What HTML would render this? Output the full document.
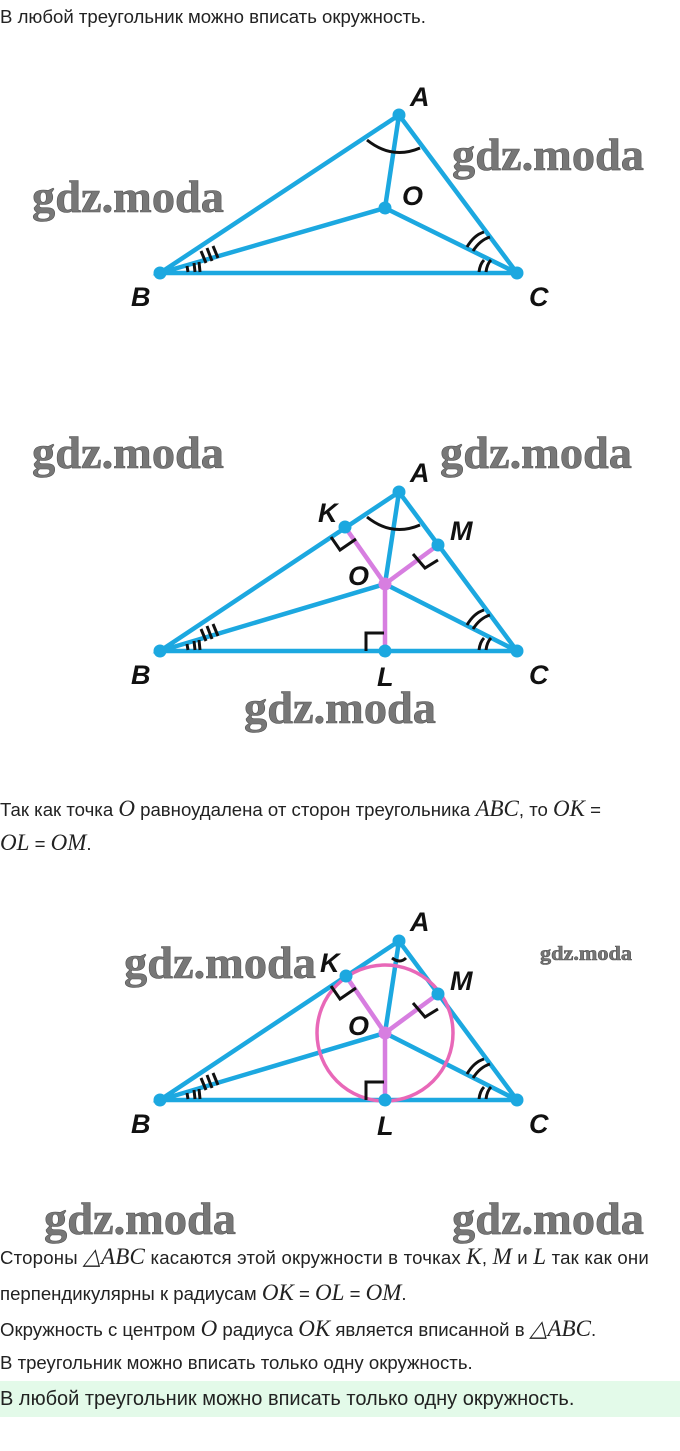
<!DOCTYPE html>
<html><head><meta charset="utf-8"><style>
body{margin:0;width:680px;height:1451px;position:relative;background:#fff;font-family:"Liberation Sans",sans-serif;color:#222;overflow:hidden}
.t{position:absolute;left:0;font-size:18.6px;white-space:nowrap}
.m{font-family:"Liberation Serif",serif;font-style:italic;font-size:23px}
.wm{font-family:"Liberation Serif",serif;font-weight:bold;fill:#777;stroke:#555;stroke-width:.6}
.lb{font-family:"Liberation Sans",sans-serif;font-weight:bold;font-style:italic;font-size:27px;fill:#111}
</style></head><body>
<div class="t" style="top:6px">В любой треугольник можно вписать окружность.</div>
<div class="t" style="top:796px">Так как точка <span class="m">O</span> равноудалена от сторон треугольника <span class="m">ABC</span>, то <span class="m">OK</span> =</div>
<div class="t" style="top:830px"><span class="m">OL</span> = <span class="m">OM</span>.</div>
<div class="t" style="top:1244px;letter-spacing:0.2px">Стороны <span class="m">△ABC</span> касаются этой окружности в точках <span class="m">K</span>, <span class="m">M</span> и <span class="m">L</span> так как они</div>
<div class="t" style="top:1280px">перпендикулярны к радиусам <span class="m">OK</span> = <span class="m">OL</span> = <span class="m">OM</span>.</div>
<div class="t" style="top:1316px">Окружность с центром <span class="m">O</span> радиуса <span class="m">OK</span> является вписанной в <span class="m">△ABC</span>.</div>
<div class="t" style="top:1352px">В треугольник можно вписать только одну окружность.</div>
<div class="t" style="top:1381px;width:680px;height:36px;background:#e3fae9;line-height:36px;font-size:20px">В любой треугольник можно вписать только одну окружность.</div>
<svg width="680" height="1451" style="position:absolute;left:0;top:0">
<g stroke="#1ca8e0" stroke-width="4.5" fill="none" stroke-linecap="round">
<path d="M160 273L399 115L517 273ZM399 115L385 208M160 273L385 208L517 273"/>
<path d="M160 651L399 492L517 651ZM399 492L385 584M160 651L385 584L517 651"/>
<path d="M160 1100L399 941L517 1100ZM399 941L385 1033M160 1100L385 1033L517 1100"/>
</g>
<g stroke="#d77ee0" stroke-width="4.5" fill="none">
<path d="M345 527L385 584L438 545M385 584L385 651"/>
<path d="M346 976L385 1033L438 994M385 1033L385 1100"/>
</g>
<circle cx="385" cy="1033" r="68" stroke="#e868b8" stroke-width="3.5" fill="none"/>
<g stroke="#111" stroke-width="3" fill="none">
<path d="M367 140Q392 160 420 148"/>
<path d="M367 517Q392 537 420 525"/>
<path d="M392 958Q400 964 406 958"/>
<path d="M201 251L206 263M207 248L212 261M213 246L218 258M188 272L187 266M195 272L194 263M200 272L199 262"/>
<path d="M201 629L206 641M207 626L212 639M213 624L218 636M188 650L187 644M195 650L194 641M200 650L199 640"/>
<path d="M201 1078L206 1090M207 1075L212 1088M213 1073L218 1085M188 1099L187 1093M195 1099L194 1090M200 1099L199 1089"/>
<path d="M467 247Q474 235 484 232M473 251Q480 240 490 237M479 272Q480 264 484 260M486 272Q487 264 491 260"/>
<path d="M467 625Q474 613 484 610M473 629Q480 618 490 615M479 650Q480 642 484 638M486 650Q487 642 491 638"/>
<path d="M467 1074Q474 1062 484 1059M473 1078Q480 1067 490 1064M479 1099Q480 1091 484 1087M486 1099Q487 1091 491 1087"/>
<path d="M331 537L340 550L356 539M366 651L366 633L384 633M413 554L425 568L438 560"/>
<path d="M331 986L340 999L356 988M366 1100L366 1082L384 1082M413 1003L425 1017L438 1009"/>
</g>
<g fill="#1ca8e0">
<circle cx="399" cy="115" r="6.5"/><circle cx="160" cy="273" r="6.5"/><circle cx="517" cy="273" r="6.5"/><circle cx="385" cy="208" r="6.5"/>
<circle cx="399" cy="492" r="6.5"/><circle cx="160" cy="651" r="6.5"/><circle cx="517" cy="651" r="6.5"/><circle cx="345" cy="527" r="6.5"/><circle cx="438" cy="545" r="6.5"/><circle cx="385" cy="651" r="6.5"/>
<circle cx="399" cy="941" r="6.5"/><circle cx="160" cy="1100" r="6.5"/><circle cx="517" cy="1100" r="6.5"/><circle cx="346" cy="976" r="6.5"/><circle cx="438" cy="994" r="6.5"/><circle cx="385" cy="1100" r="6.5"/>
</g>
<circle cx="385" cy="584" r="6.5" fill="#d77ee0"/><circle cx="385" cy="1033" r="6.5" fill="#d77ee0"/>
<g class="lb">
<text x="410" y="106">A</text><text x="402" y="205">O</text><text x="131" y="306">B</text><text x="529" y="306">C</text>
<text x="410" y="482">A</text><text x="318" y="522">K</text><text x="450" y="540">M</text><text x="348" y="585">O</text><text x="131" y="684">B</text><text x="377" y="686">L</text><text x="529" y="684">C</text>
<text x="410" y="931">A</text><text x="320" y="972">K</text><text x="450" y="990">M</text><text x="348" y="1035">O</text><text x="131" y="1133">B</text><text x="377" y="1135">L</text><text x="529" y="1133">C</text>
</g>
<g class="wm" font-size="45">
<text x="32" y="212" textLength="192" lengthAdjust="spacingAndGlyphs">gdz.moda</text><text x="452" y="170" textLength="192" lengthAdjust="spacingAndGlyphs">gdz.moda</text>
<text x="32" y="468" textLength="192" lengthAdjust="spacingAndGlyphs">gdz.moda</text><text x="440" y="468" textLength="192" lengthAdjust="spacingAndGlyphs">gdz.moda</text>
<text x="244" y="723" textLength="192" lengthAdjust="spacingAndGlyphs">gdz.moda</text>
<text x="124" y="978" textLength="192" lengthAdjust="spacingAndGlyphs">gdz.moda</text>
<text x="44" y="1234" textLength="192" lengthAdjust="spacingAndGlyphs">gdz.moda</text><text x="452" y="1234" textLength="192" lengthAdjust="spacingAndGlyphs">gdz.moda</text>
</g>
<text class="wm" x="540" y="960" font-size="20" textLength="92" lengthAdjust="spacingAndGlyphs">gdz.moda</text>
</svg>
</body></html>
